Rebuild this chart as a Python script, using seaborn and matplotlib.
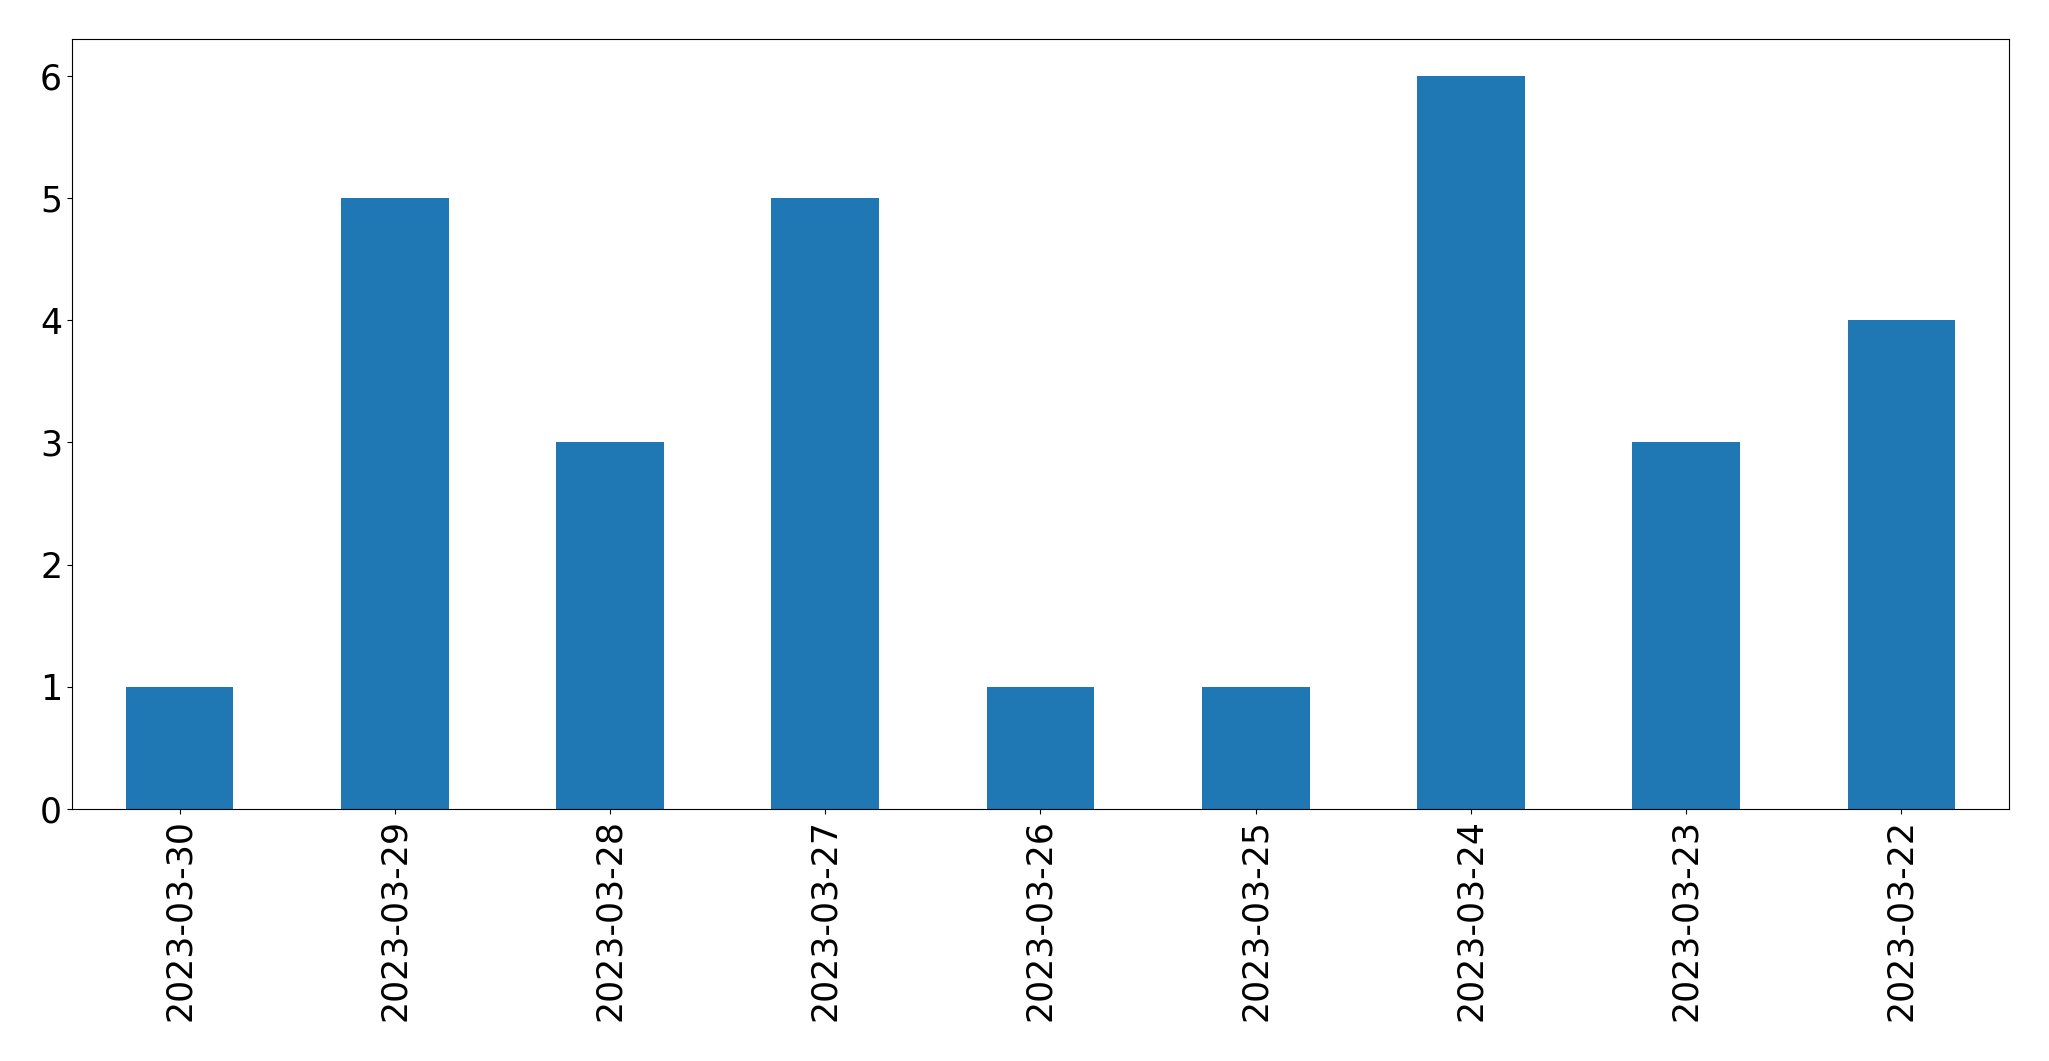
import matplotlib
matplotlib.use("Agg")
import matplotlib.pyplot as plt
import seaborn as sns
import pandas as pd

dates = ["2023-03-30", "2023-03-29", "2023-03-28", "2023-03-27", "2023-03-26",
         "2023-03-25", "2023-03-24", "2023-03-23", "2023-03-22"]
counts = [1, 5, 3, 5, 1, 1, 6, 3, 4]

df = pd.DataFrame({"date": dates, "count": counts})

fig, ax = plt.subplots(figsize=(20.49, 10.61), dpi=100)
sns.barplot(data=df, x="date", y="count", order=dates, color="#1f77b4",
            saturation=1, width=0.5, linewidth=0, ax=ax)

ax.set_xlim(-0.5, len(dates) - 0.5)
ax.set_xlabel("")
ax.set_ylabel("")
ax.tick_params(axis="both", labelsize=25)
ax.tick_params(axis="x", labelrotation=90)

fig.subplots_adjust(left=0.0351, right=0.9805, top=0.9632, bottom=0.2375)
fig.savefig("out.png", dpi=100)
